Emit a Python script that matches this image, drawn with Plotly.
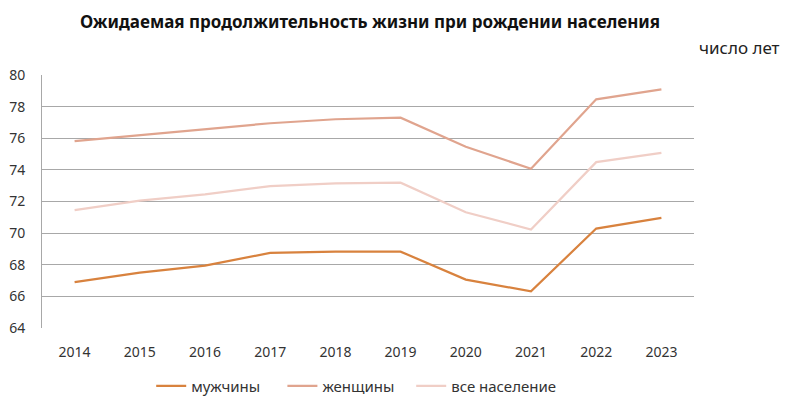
import plotly.graph_objects as go

years = ["2014", "2015", "2016", "2017", "2018", "2019", "2020", "2021", "2022", "2023"]
men = [66.9, 67.5, 67.95, 68.75, 68.83, 68.83, 67.06, 66.32, 70.29, 70.97]
women = [75.82, 76.2, 76.6, 76.95, 77.2, 77.3, 75.46, 74.07, 78.46, 79.09]
total = [71.45, 72.05, 72.45, 72.97, 73.14, 73.19, 71.32, 70.23, 74.49, 75.08]

FONT = "Noto Sans"

fig = go.Figure()
fig.add_trace(go.Scatter(x=years, y=men, name="мужчины", mode="lines", legend="legend",
                         showlegend=True, line=dict(color="#D8823E", width=2.2)))
fig.add_trace(go.Scatter(x=years, y=women, name="женщины", mode="lines", legend="legend2",
                         showlegend=True, line=dict(color="#E0A48E", width=2.2)))
fig.add_trace(go.Scatter(x=years, y=total, name="все население", mode="lines", legend="legend3",
                         showlegend=True, line=dict(color="#F0CEC6", width=2.2)))


def legend_at(x):
    # one legend per series so the spacing follows the reference
    return dict(orientation="h", xref="container", yref="container",
                x=x, xanchor="left", y=0.049, yanchor="middle",
                font=dict(size=15, color="#333333"), itemwidth=30)


fig.update_layout(
    width=800, height=406,
    margin=dict(l=42, r=106, t=75, b=78),
    paper_bgcolor="white", plot_bgcolor="white",
    showlegend=True,
    font=dict(family=FONT, size=14, color="#222222"),
    title=dict(text="<b>Ожидаемая продолжительность жизни при рождении населения</b>",
               x=0.4625, xanchor="center", y=0.946, yanchor="middle",
               font=dict(family=FONT, size=17, color="#111111")),
    legend=legend_at(0.189),
    legend2=legend_at(0.353),
    legend3=legend_at(0.514),
    annotations=[dict(text="число лет", xref="paper", yref="paper",
                      x=1.005, y=1.11, xanchor="left", yanchor="middle",
                      showarrow=False, font=dict(size=17, color="#222222"))],
)
fig.update_xaxes(type="category", showgrid=False, showline=False, ticks="",
                 ticklabelstandoff=14, automargin=False,
                 tickfont=dict(size=14, color="#333333"), range=[-0.5, 9.5])
fig.update_yaxes(range=[64, 80], dtick=2, showgrid=True, gridcolor="#A8A8A8",
                 gridwidth=1, zeroline=False, showline=True, linecolor="#A8A8A8",
                 ticks="", ticklabelstandoff=13, automargin=False,
                 tickfont=dict(size=14, color="#333333"))

# the page's default body margin shifts the figure by 8px
fig.write_html("out.html", config={"displayModeBar": False},
               post_script="document.body.style.margin='0';")
